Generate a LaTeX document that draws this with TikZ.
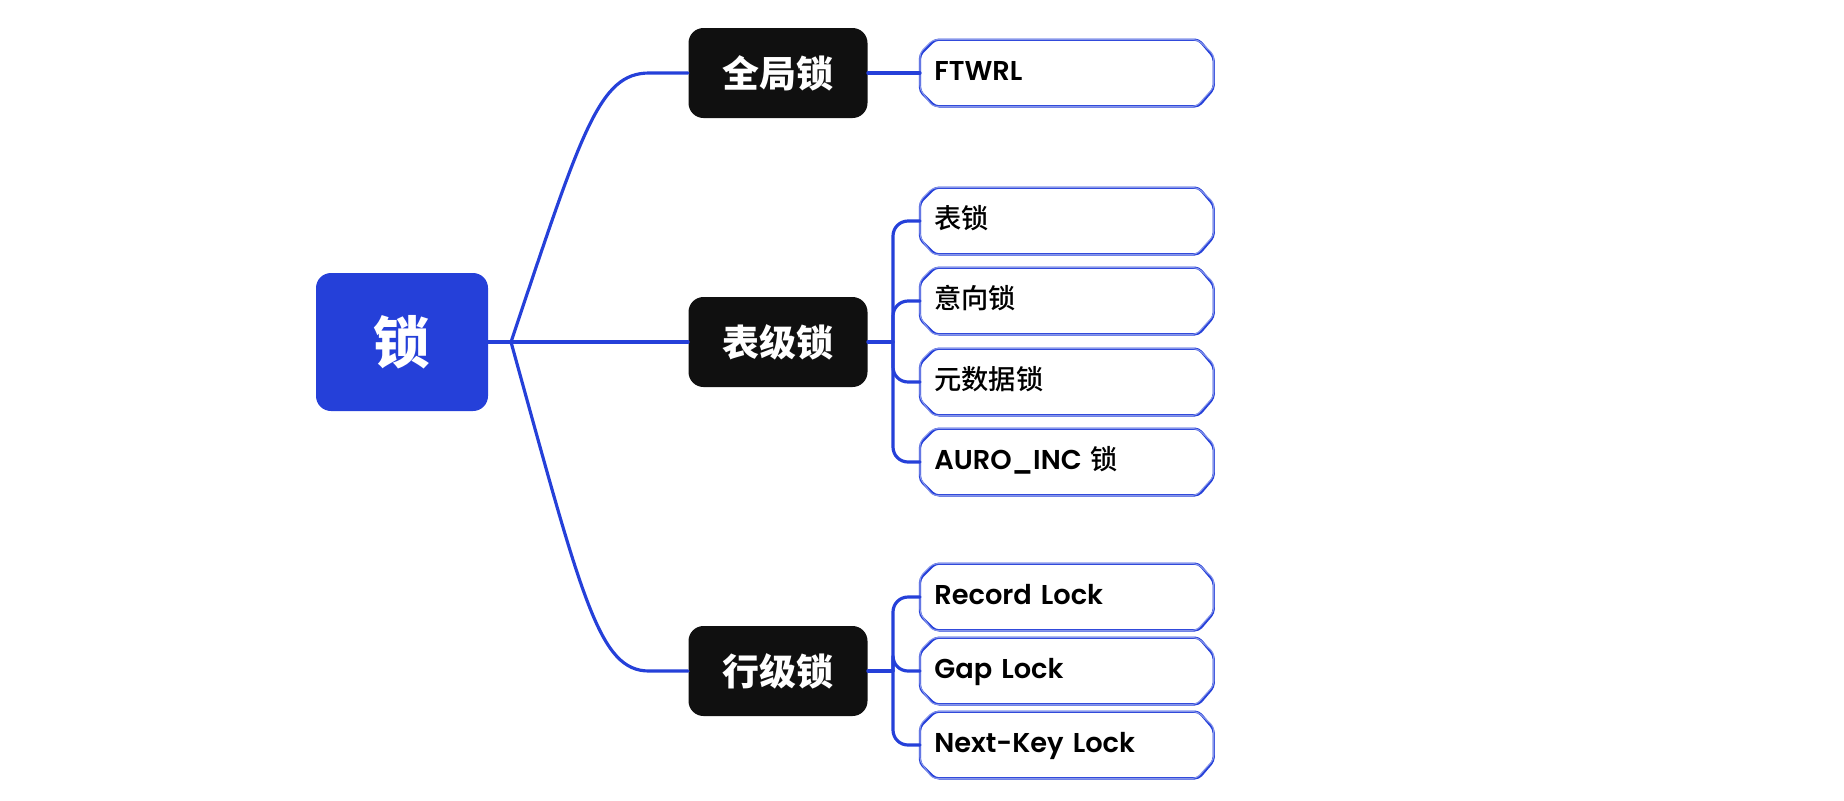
\documentclass[tikz,border=0pt]{standalone}
\usepackage{fontspec}
\setmainfont{Poppins}[BoldFont={Poppins SemiBold}]
\newfontfamily\cjk{Noto Sans CJK SC}
\newfontfamily\cjkmed{Noto Sans CJK SC Medium}
\newcommand\zh[1]{{\cjkmed\mdseries #1}}
\usetikzlibrary{calc}
\definecolor{lockblue}{RGB}{37,64,217}
\definecolor{boxblack}{RGB}{16,16,16}

\begin{document}
\begin{tikzpicture}[x=.2mm, y=-.2mm, line join=round, line cap=round,
	link/.style={draw=lockblue, line width=1.8pt},
	rootbox/.style={fill=lockblue, text=white, rounded corners=3mm, minimum width=3.44cm, minimum height=2.76cm, font=\cjk\bfseries\fontsize{32}{36}\selectfont},
	catbox/.style={fill=boxblack, text=white, rounded corners=3mm, minimum width=3.58cm, minimum height=1.8cm, font=\cjk\bfseries\fontsize{21}{24}\selectfont},
	leaf/.style={anchor=west, minimum height=1.32cm, text width=5.3cm, inner xsep=2.8mm, align=left, text height=1em, text depth=.2em, font=\bfseries\fontsize{15.5}{19}\selectfont},
	sketch/.style={draw=lockblue, line width=1.3pt, rounded corners=.8mm},
	sketchb/.style={draw=lockblue!55, line width=.6pt, rounded corners=.8mm}]
	\useasboundingbox (0,0) rectangle (1844,800);
	
	% main nodes
	\node[rootbox] (root) at (402,342) {锁};
	\node[catbox] (glob) at (778,73) {全局锁};
	\node[catbox] (tab) at (778,342) {表级锁};
	\node[catbox] (row) at (778,671) {行级锁};
	\coordinate (fork) at (511,342);
	\coordinate (tfork) at (893,342);
	\coordinate (rfork) at (893,671);
	
	% leaves
	\foreach \n/\y/\t in {ftwrl/73/FTWRL, tlock/221/\zh{表锁}, ilock/301/\zh{意向锁}, mlock/382/\zh{元数据锁}, alock/462/AURO\_INC \zh{锁}, rlock/597/Record Lock, glock/671/Gap Lock, nlock/745/Next-Key Lock}
	\node[leaf] (\n) at (920,\y) {\t};
	
	\foreach \n in {ftwrl,tlock,ilock,mlock,alock,rlock,glock,nlock}{
		\draw[sketch] ([xshift=3mm]\n.north west) -- ([xshift=-3mm]\n.north east) -- ([yshift=-3.5mm]\n.north east) -- ([yshift=3.5mm]\n.south east) -- ([xshift=-3mm]\n.south east) -- ([xshift=3mm]\n.south west) -- ([yshift=3mm]\n.south west) -- ([yshift=-3mm]\n.north west) -- cycle;
		\draw[sketchb, xshift=.5mm, yshift=.35mm] ([xshift=2.6mm]\n.north west) -- ([xshift=-3.2mm]\n.north east) -- ([yshift=-3mm]\n.north east) -- ([yshift=3.8mm]\n.south east) -- ([xshift=-3.4mm]\n.south east) -- ([xshift=2.5mm]\n.south west) -- ([yshift=3.4mm]\n.south west) -- ([yshift=-2.6mm]\n.north west) -- cycle;
	}
	
	% connectors
	\draw[link] (root.east) -- (fork) -- (tab.west);
	\draw[link] (fork) .. controls +(71,-212) and +(-50,0) .. ($(glob.west)+(-39,0)$) -- (glob.west);
	\draw[link] (fork) .. controls +(72,260) and +(-50,0) .. ($(row.west)+(-39,0)$) -- (row.west);
	\draw[link] (glob.east) -- (ftwrl.west);
	\draw[link] (tab.east) -- (tfork);
	\draw[link] (row.east) -- (rfork);
	\foreach \n in {tlock,ilock,mlock,alock}\draw[link, rounded corners=3mm] (tfork) |- (\n.west);
	\foreach \n in {rlock,glock,nlock}\draw[link, rounded corners=3mm] (rfork) |- (\n.west);
\end{tikzpicture}
\end{document}
